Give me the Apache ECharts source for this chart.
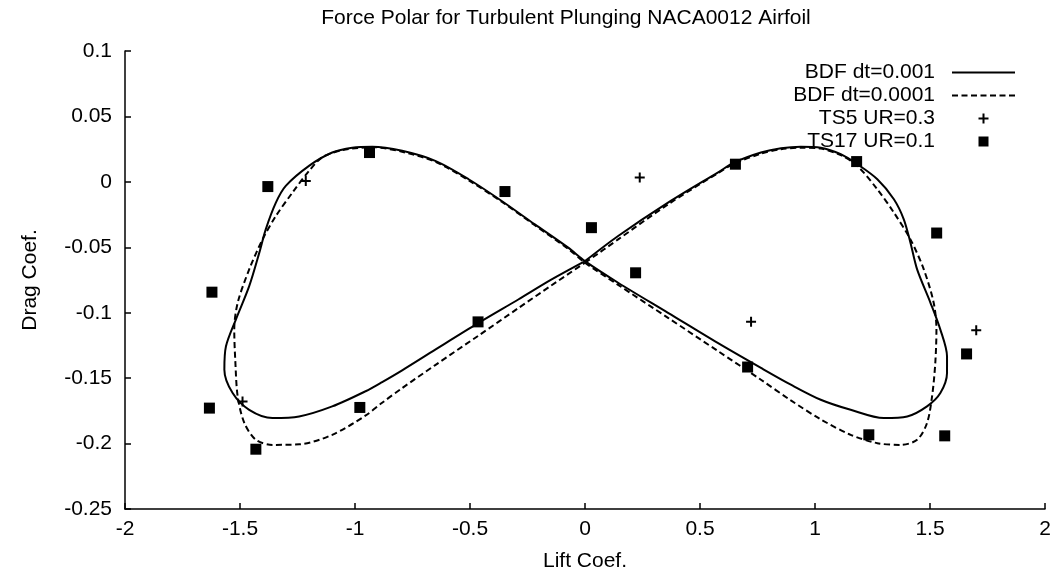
<!DOCTYPE html>
<html>
<head>
<meta charset="utf-8">
<title>Force Polar for Turbulent Plunging NACA0012 Airfoil</title>
<script src="https://cdn.jsdelivr.net/npm/echarts/dist/echarts.min.js"></script>
<style>
  html, body { margin: 0; padding: 0; background: #fff; }
  #chart { width: 1057px; height: 578px; }
</style>
</head>
<body>
<div id="chart"></div>
<script>
// BDF dt=0.001 closed polar (lift, drag)
const bdf001Lift = [0.000, 0.144, 0.361, 0.577, 0.649, 0.765, 0.852, 0.938, 1.025, 1.112,
  1.184, 1.271, 1.343, 1.386, 1.415, 1.444, 1.502, 1.545, 1.574, 1.574,
  1.545, 1.487, 1.401, 1.299, 1.155, 1.025, 0.895, 0.765, 0.577, 0.361,
  0.144, 0.000, -0.073, -0.218, -0.362, -0.506, -0.651, -0.795, -0.925, -1.012,
  -1.099, -1.200, -1.301, -1.344, -1.388, -1.416, -1.460, -1.518, -1.561, -1.568,
  -1.532, -1.460, -1.359, -1.243, -1.099, -0.954, -0.882, -0.795, -0.651, -0.463,
  -0.290, -0.145, 0.000];
const bdf001Drag = [-0.0606, -0.0414, -0.0159, 0.0071, 0.0148, 0.0224, 0.0257, 0.0269, 0.0261, 0.0211,
  0.0135, 0.0020, -0.0133, -0.0286, -0.0465, -0.0669, -0.0924, -0.1129, -0.1333, -0.1461,
  -0.1614, -0.1716, -0.1793, -0.1805, -0.1742, -0.1665, -0.1550, -0.1422, -0.1231, -0.1001,
  -0.0771, -0.0606, -0.0503, -0.0325, -0.0146, 0.0020, 0.0160, 0.0237, 0.0269, 0.0261,
  0.0224, 0.0122, -0.0031, -0.0159, -0.0363, -0.0541, -0.0797, -0.1052, -0.1257, -0.1435,
  -0.1614, -0.1742, -0.1805, -0.1793, -0.1716, -0.1600, -0.1530, -0.1440, -0.1282, -0.1078,
  -0.0899, -0.0746, -0.0606];

// BDF dt=0.0001 closed polar (lift, drag)
const bdf0001Lift = [0.000, 0.144, 0.361, 0.577, 0.649, 0.765, 0.852, 0.938, 1.025, 1.112,
  1.184, 1.271, 1.343, 1.415, 1.473, 1.516, 1.528, 1.523, 1.509, 1.487,
  1.444, 1.372, 1.271, 1.155, 1.025, 0.895, 0.765, 0.577, 0.361, 0.144,
  0.000, -0.073, -0.218, -0.362, -0.506, -0.651, -0.795, -0.925, -1.055, -1.142,
  -1.200, -1.272, -1.344, -1.402, -1.460, -1.510, -1.525, -1.520, -1.510, -1.481,
  -1.431, -1.359, -1.242, -1.099, -0.955, -0.882, -0.795, -0.651, -0.463, -0.290,
  -0.145, 0.000];
const bdf0001Drag = [-0.0618, -0.0440, -0.0172, 0.0066, 0.0139, 0.0215, 0.0250, 0.0261, 0.0254, 0.0204,
  0.0122, -0.0057, -0.0235, -0.0440, -0.0669, -0.0924, -0.1129, -0.1384, -0.1640, -0.1843,
  -0.1971, -0.2010, -0.1997, -0.1933, -0.1815, -0.1670, -0.1512, -0.1292, -0.1039, -0.0787,
  -0.0618, -0.0512, -0.0332, -0.0152, 0.0012, 0.0154, 0.0230, 0.0265, 0.0242, 0.0188,
  0.0083, -0.0082, -0.0261, -0.0440, -0.0669, -0.0924, -0.1129, -0.1384, -0.1640, -0.1843,
  -0.1971, -0.2010, -0.2006, -0.1933, -0.1787, -0.1688, -0.1576, -0.1400, -0.1175, -0.0965,
  -0.0790, -0.0618];

// Time-spectral samples
const ts5Lift = [-1.214, 0.238, 0.722, 1.701, -1.489];
const ts5Drag = [0.0007, 0.0033, -0.1070, -0.1134, -0.1678];

const ts17Lift = [-1.379, -1.622, -1.633, -1.431, -0.979, -0.937, -0.348, 0.028, 0.220,
  -0.465, 0.654, 0.707, 1.181, 1.529, 1.659, 1.234, 1.564];
const ts17Drag = [-0.0036, -0.0843, -0.1729, -0.2043, -0.1724, 0.0224, -0.0074, -0.0350, -0.0695,
  -0.1070, 0.0135, -0.1415, 0.0155, -0.0391, -0.1315, -0.1933, -0.1941];

const seriesNames = ['BDF dt=0.001', 'BDF dt=0.0001', 'TS5 UR=0.3', 'TS17 UR=0.1'];

const zip = (xs, ys) => xs.map((x, i) => [x, ys[i]]);

const FONT = "'Liberation Sans', Arial, Helvetica, sans-serif";
const FS = 21;
const INK = '#000';

// marker shapes
const PLUS = 'path://M4,0H6V4H10V6H6V10H4V6H0V4H4Z';
const SQUARE = 'path://M0,0H10V10H0Z';
const SOLID_KEY = 'path://M0,0H63V2H0Z';
const DASH_KEY = 'path://M0,0h6v2h-6z M9.5,0h6v2h-6z M19,0h6v2h-6z M28.5,0h6v2h-6z M38,0h6v2h-6z M47.5,0h6v2h-6z M57,0h6v2h-6z';

const chart = echarts.init(document.getElementById('chart'), null, { renderer: 'canvas' });

chart.setOption({
  animation: false,
  backgroundColor: '#fff',
  title: {
    text: 'Force Polar for Turbulent Plunging NACA0012 Airfoil',
    left: 566,
    textAlign: 'center',
    top: 8,
    padding: 0,
    textStyle: { fontFamily: FONT, fontSize: FS, fontWeight: 'normal', color: INK }
  },
  grid: {
    left: 125, right: 12, top: 51, bottom: 69,
    containLabel: false,
    outerBoundsMode: 'none'
  },
  legend: {
    orient: 'vertical',
    right: 42,
    top: 62,
    padding: 0,
    align: 'right',
    itemWidth: 63,
    itemHeight: 10,
    itemGap: 2,
    selectedMode: false,
    textStyle: { fontFamily: FONT, fontSize: FS, color: INK, padding: [0, 12, 0, 0] },
    data: [
      { name: seriesNames[0], icon: SOLID_KEY },
      { name: seriesNames[1], icon: DASH_KEY },
      { name: seriesNames[2], icon: PLUS },
      { name: seriesNames[3], icon: SQUARE }
    ]
  },
  xAxis: {
    type: 'value',
    min: -2, max: 2, interval: 0.5,
    name: 'Lift Coef.',
    nameLocation: 'middle',
    nameGap: 42,
    nameTextStyle: { fontFamily: FONT, fontSize: FS, color: INK },
    axisLine: { show: true, onZero: false, lineStyle: { color: INK, width: 1.5 } },
    axisTick: { show: true, inside: true, length: 6, lineStyle: { color: INK, width: 1.5 } },
    axisLabel: { fontFamily: FONT, fontSize: FS, color: INK, margin: 10, showMinLabel: true, showMaxLabel: true },
    splitLine: { show: false }
  },
  yAxis: {
    type: 'value',
    min: -0.25, max: 0.1, interval: 0.05,
    name: 'Drag Coef.',
    nameLocation: 'middle',
    nameGap: 84,
    nameTextStyle: { fontFamily: FONT, fontSize: FS, color: INK },
    axisLine: { show: true, onZero: false, lineStyle: { color: INK, width: 1.5 } },
    axisTick: { show: true, inside: true, length: 6, lineStyle: { color: INK, width: 1.5 } },
    axisLabel: { fontFamily: FONT, fontSize: FS, color: INK, margin: 13, showMinLabel: true, showMaxLabel: true },
    splitLine: { show: false }
  },
  series: [
    {
      name: seriesNames[0],
      type: 'line',
      data: zip(bdf001Lift, bdf001Drag),
      symbol: 'none',
      showSymbol: false,
      smooth: 0.3,
      color: INK,
      lineStyle: { color: INK, width: 2 },
      z: 2
    },
    {
      name: seriesNames[1],
      type: 'line',
      data: zip(bdf0001Lift, bdf0001Drag),
      symbol: 'none',
      showSymbol: false,
      smooth: 0.3,
      color: INK,
      lineStyle: { color: INK, width: 2, type: [6, 3.5] },
      z: 2
    },
    {
      name: seriesNames[2],
      type: 'scatter',
      data: zip(ts5Lift, ts5Drag),
      symbol: PLUS,
      symbolSize: 10,
      color: INK,
      itemStyle: { color: INK, opacity: 1 },
      z: 3
    },
    {
      name: seriesNames[3],
      type: 'scatter',
      data: zip(ts17Lift, ts17Drag),
      symbol: SQUARE,
      symbolSize: 11,
      color: INK,
      itemStyle: { color: INK, opacity: 1 },
      z: 3
    }
  ]
});
</script>
</body>
</html>
